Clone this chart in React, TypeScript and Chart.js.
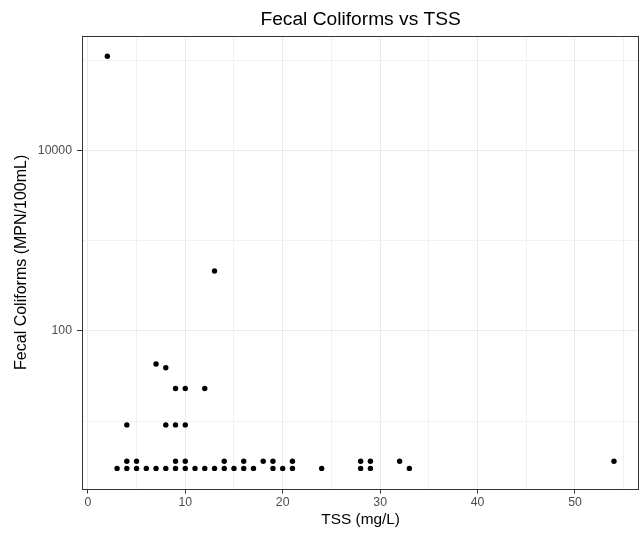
import React, { useEffect, useRef } from 'react';
import { Chart, registerables } from 'chart.js';

Chart.register(...registerables);

// ---- Data ----
const tssValues = [
  2, 3, 4, 4, 4, 5, 5, 6, 7, 7, 8, 8, 8, 9, 9, 9, 9, 10, 10, 10, 10, 11, 12, 12,
  13, 13, 14, 14, 15, 16, 16, 17, 18, 19, 19, 20, 21, 21, 24, 28, 28, 29, 29, 32, 33, 54,
];
const fecalValues = [
  110000, 3, 3, 3.6, 9.1, 3, 3.6, 3, 3, 43, 3, 9.1, 39, 3, 3.6, 9.1, 23, 3, 3.6, 9.1, 23, 3, 3, 23,
  3, 460, 3, 3.6, 3, 3, 3.6, 3, 3.6, 3, 3.6, 3, 3, 3.6, 3, 3, 3.6, 3, 3.6, 3.6, 3, 3.6,
];

const xGridValues = [0, 5, 10, 15, 20, 25, 30, 35, 40, 45, 50, 55];
const xLabelValues = [0, 10, 20, 30, 40, 50];
const yGridValues = [10, 100, 1000, 10000, 100000];
const yLabelValues = [100, 10000];

const xMin = -0.6;
const xMax = 56.6;
const yMin = 1.7737;
const yMax = 186040;

const titleText = 'Fecal Coliforms vs TSS';
const xTitle = 'TSS (mg/L)';
const yTitle = 'Fecal Coliforms (MPN/100mL)';

const FONT = "'Liberation Sans', Arial, sans-serif";

export default function App() {
  const ref = useRef<HTMLCanvasElement>(null);

  useEffect(() => {
    document.body.style.margin = '0';
    const canvas = ref.current;
    if (!canvas) return;

    const borderPlugin = {
      id: 'panelBorder',
      afterLayout(chart: any) {
        // center the plot title over the panel (as ggplot does)
        const tb = chart.titleBlock;
        if (tb) {
          tb.left = chart.chartArea.left;
          tb.right = chart.chartArea.right;
        }
      },
      afterDraw(chart: any) {
        const { ctx, chartArea: a } = chart;
        ctx.save();
        ctx.strokeStyle = '#333333';
        ctx.lineWidth = 1;
        const l = Math.round(a.left);
        const t = Math.round(a.top);
        const r = Math.round(a.right);
        const b = Math.round(a.bottom);
        ctx.strokeRect(l + 0.5, t + 0.5, r - l - 1, b - t);
        ctx.restore();
      },
    };

    const points = tssValues.map((x, i) => ({ x, y: fecalValues[i] }));

    const chart = new Chart(canvas, {
      type: 'scatter',
      data: {
        datasets: [
          {
            data: points,
            backgroundColor: '#000000',
            borderColor: '#000000',
            borderWidth: 0,
            pointRadius: 2.7,
            pointHoverRadius: 2.7,
          },
        ],
      },
      plugins: [borderPlugin],
      options: {
        responsive: false,
        animation: false,
        events: [],
        layout: { padding: { left: 0, right: 2, top: 0, bottom: 0 } },
        plugins: {
          legend: { display: false },
          tooltip: { enabled: false },
          title: {
            display: true,
            text: titleText,
            color: '#000000',
            font: { family: FONT, size: 19.2, weight: 'normal' },
            padding: { top: 7.8, bottom: 4.86 },
          },
        },
        scales: {
          x: {
            type: 'linear',
            min: xMin,
            max: xMax,
            bounds: 'data',
            afterBuildTicks: (s: any) => {
              s.ticks = xGridValues.map((v) => ({ value: v }));
            },
            afterFit: (s: any) => {
              s.height = 45;
            },
            ticks: {
              autoSkip: false,
              maxRotation: 0,
              color: '#4D4D4D',
              font: { family: FONT, size: 12.3 },
              padding: 1.5,
              callback: (v: any) => (xLabelValues.includes(Number(v)) ? String(v) : ''),
            },
            grid: {
              color: (c: any) =>
                c.tick && xLabelValues.includes(c.tick.value) ? '#EBEBEB' : '#F1F1F1',
              lineWidth: 1,
              drawTicks: true,
              tickLength: 4.5,
              tickWidth: 1,
              tickColor: (c: any) =>
                c.tick && xLabelValues.includes(c.tick.value) ? '#333333' : 'rgba(0,0,0,0)',
            },
            border: { display: false },
            title: {
              display: true,
              text: xTitle,
              color: '#000000',
              font: { family: FONT, size: 15.4 },
              padding: { top: 0, bottom: 5.2 },
            },
          },
          y: {
            type: 'logarithmic',
            min: yMin,
            max: yMax,
            bounds: 'data',
            afterBuildTicks: (s: any) => {
              s.ticks = yGridValues.map((v) => ({ value: v }));
            },
            afterFit: (s: any) => {
              s.width = 82;
            },
            ticks: {
              autoSkip: false,
              color: '#4D4D4D',
              font: { family: FONT, size: 12.3 },
              padding: 5,
              callback: (v: any) => (yLabelValues.includes(Number(v)) ? String(v) : ''),
            },
            grid: {
              color: (c: any) =>
                c.tick && yLabelValues.includes(c.tick.value) ? '#EBEBEB' : '#F1F1F1',
              lineWidth: 1,
              drawTicks: true,
              tickLength: 5,
              tickWidth: 1,
              tickColor: (c: any) =>
                c.tick && yLabelValues.includes(c.tick.value) ? '#333333' : 'rgba(0,0,0,0)',
            },
            border: { display: false },
            title: {
              display: true,
              text: yTitle,
              color: '#000000',
              font: { family: FONT, size: 16 },
              padding: { top: 12.3, bottom: 0 },
            },
          },
        },
      } as any,
    });

    return () => {
      chart.destroy();
    };
  }, []);

  return (
    <canvas
      ref={ref}
      width={642}
      height={534}
      style={{ display: 'block', width: 642, height: 534 }}
    />
  );
}
